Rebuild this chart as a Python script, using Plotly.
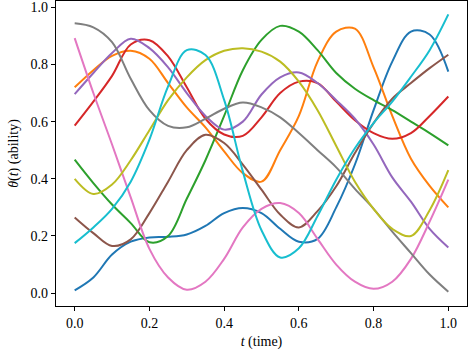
import plotly.graph_objects as go

t = [0.0, 0.05, 0.1, 0.15, 0.2, 0.25, 0.3, 0.35, 0.4, 0.45, 0.5,
     0.55, 0.6, 0.65, 0.7, 0.75, 0.8, 0.85, 0.9, 0.95, 1.0]

blue = [0.01, 0.055, 0.135, 0.18, 0.195, 0.197, 0.205, 0.235, 0.28, 0.298, 0.28,
        0.225, 0.18, 0.19, 0.30, 0.45, 0.64, 0.81, 0.915, 0.905, 0.775]
orange = [0.72, 0.78, 0.83, 0.848, 0.82, 0.735, 0.65, 0.58, 0.496, 0.42, 0.39,
          0.50, 0.62, 0.81, 0.915, 0.925, 0.79, 0.62, 0.47, 0.375, 0.30]
green = [0.467, 0.385, 0.31, 0.245, 0.178, 0.20, 0.33, 0.465, 0.62, 0.78, 0.886,
         0.935, 0.915, 0.85, 0.77, 0.715, 0.675, 0.64, 0.60, 0.56, 0.517]
red = [0.586, 0.67, 0.76, 0.87, 0.885, 0.828, 0.72, 0.61, 0.555, 0.55, 0.615,
       0.70, 0.74, 0.735, 0.67, 0.605, 0.56, 0.54, 0.56, 0.62, 0.688]
purple = [0.696, 0.77, 0.84, 0.89, 0.857, 0.79, 0.70, 0.62, 0.572, 0.60, 0.695,
          0.755, 0.772, 0.735, 0.675, 0.61, 0.52, 0.405, 0.32, 0.225, 0.16]
brown = [0.265, 0.21, 0.165, 0.188, 0.28, 0.39, 0.50, 0.554, 0.525, 0.45, 0.362,
         0.275, 0.23, 0.287, 0.374, 0.49, 0.595, 0.68, 0.735, 0.787, 0.834]
pink = [0.892, 0.70, 0.52, 0.335, 0.155, 0.055, 0.012, 0.04, 0.12, 0.23, 0.295,
        0.315, 0.28, 0.19, 0.10, 0.04, 0.015, 0.04, 0.12, 0.25, 0.397]
gray = [0.944, 0.93, 0.878, 0.75, 0.64, 0.585, 0.58, 0.61, 0.645, 0.667, 0.65,
        0.615, 0.56, 0.50, 0.44, 0.365, 0.295, 0.215, 0.14, 0.065, 0.005]
olive = [0.40, 0.347, 0.38, 0.465, 0.57, 0.675, 0.755, 0.815, 0.848, 0.857, 0.845,
         0.81, 0.74, 0.64, 0.515, 0.39, 0.295, 0.225, 0.20, 0.29, 0.43]
cyan = [0.175, 0.23, 0.295, 0.39, 0.537, 0.723, 0.85, 0.833, 0.676, 0.426, 0.22,
        0.125, 0.157, 0.27, 0.397, 0.507, 0.595, 0.67, 0.757, 0.85, 0.975]

series = [blue, orange, green, red, purple, brown, pink, gray, olive, cyan]
colors = ["#1f77b4", "#ff7f0e", "#2ca02c", "#d62728", "#9467bd",
          "#8c564b", "#e377c2", "#7f7f7f", "#bcbd22", "#17becf"]

tick_vals = [0.0, 0.2, 0.4, 0.6, 0.8, 1.0]
tick_text = ["0.0", "0.2", "0.4", "0.6", "0.8", "1.0"]

fig = go.Figure()
for ys, c in zip(series, colors):
    fig.add_trace(go.Scatter(x=t, y=ys, mode="lines",
                             line=dict(color=c, width=2, shape="spline", smoothing=1.0),
                             showlegend=False, hoverinfo="skip"))

font_family = "Liberation Serif, serif"
axis_common = dict(showline=True, linecolor="black", linewidth=1.2, mirror=True,
                   ticks="outside", ticklen=4, tickwidth=1, tickcolor="black",
                   showgrid=False, zeroline=False, automargin=False,
                   tickfont=dict(family=font_family, size=14, color="black"),
                   tickvals=tick_vals, ticktext=tick_text)

fig.update_layout(
    width=468, height=352,
    margin=dict(l=56, r=1, t=1, b=46),
    paper_bgcolor="white", plot_bgcolor="white",
    font=dict(family=font_family, size=14, color="black"),
    xaxis=dict(range=[-0.05, 1.05],
               title=dict(text="<i>t</i> (time)", standoff=6,
                          font=dict(family=font_family, size=14, color="black")),
               **axis_common),
    yaxis=dict(range=[-0.045, 1.022],
               title=dict(text="<i>θ</i>(<i>t</i>) (ability)", standoff=8,
                          font=dict(family=font_family, size=14, color="black")),
               **axis_common),
)

fig.write_html("out.html",
               config={"displayModeBar": False, "staticPlot": True},
               post_script="document.body.style.margin='0';document.body.style.padding='0';")
